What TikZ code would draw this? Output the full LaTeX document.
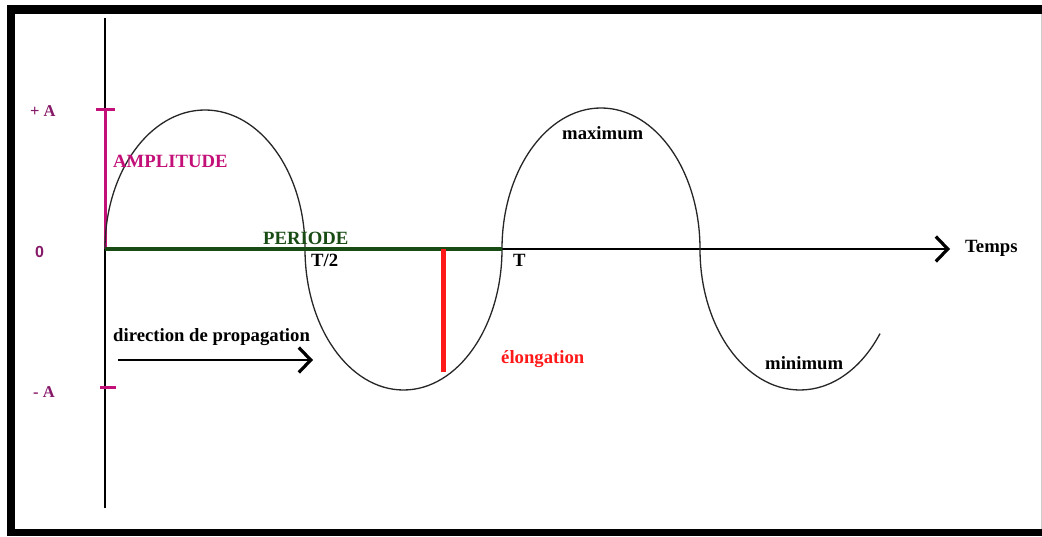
\documentclass[tikz,border=0pt]{standalone}
\usepackage{fontspec}
\setmainfont{Liberation Serif}
\setsansfont{Liberation Sans}
\usetikzlibrary{arrows.meta}
\definecolor{lblpurple}{RGB}{135,25,105}
\definecolor{ampmag}{RGB}{195,15,120}
\definecolor{pergreen}{RGB}{25,75,20}
\definecolor{elred}{RGB}{255,25,25}
\tikzset{
  lbl/.style={inner sep=0pt, font=\fontsize{18.7}{20}\selectfont\bfseries, anchor=base west},
  axlbl/.style={inner sep=0pt, font=\fontsize{16.5}{18}\selectfont\bfseries, anchor=base west, text=lblpurple},
  wave/.style={draw=black!85, line width=1.3pt},
  chev/.style={-{Straight Barb[length=12pt,width=25pt,line width=3.2pt]}},
}
\begin{document}
\begin{tikzpicture}[x=1pt,y=1pt]
\useasboundingbox (0,0) rectangle (1042,536);
\fill[white] (0,0) rectangle (1042,536);
% frame
\fill[black] (7,522) rectangle (1042,531);
\fill[black] (7,0) rectangle (15,531);
\fill[black] (7,0) rectangle (1042,7);
\draw[black!20, line width=1pt] (1041.5,7) -- (1041.5,522);
% coordinates
\coordinate (O) at (105,287);
\coordinate (Ytop) at (105,518);
\coordinate (Ybot) at (105,28);
\coordinate (Xend) at (950,287);
\coordinate (Aplus) at (105,426);
\coordinate (Tend) at (502,287);
\coordinate (Etop) at (443,287);
\coordinate (Ebot) at (443,164);
\coordinate (Ps) at (118,176);
\coordinate (Pe) at (313,176);
% axes
\draw[line width=1.5pt] (Ybot) -- (Ytop);
\draw[line width=2pt, chev] (O) -- (Xend);
% amplitude
\draw[ampmag, line width=3pt] (O) -- (Aplus);
\draw[ampmag, line width=3pt] (96,426) -- (115,426);
\draw[ampmag, line width=3pt] (100,148) -- (116,148);
% wave (half ellipses)
\draw[wave] (O) arc[start angle=180, end angle=0, x radius=100pt, y radius=139pt]
  arc[start angle=180, end angle=360, x radius=98.5pt, y radius=141pt]
  arc[start angle=180, end angle=0, x radius=99pt, y radius=141pt]
  arc[start angle=180, end angle=323.13, x radius=100pt, y radius=141pt];
% periode
\draw[pergreen, line width=4pt] (O) -- (Tend);
% elongation
\draw[elred, line width=5pt] (Etop) -- (Ebot);
% propagation arrow
\draw[line width=2.5pt, chev] (Ps) -- (Pe);
% labels
\node[axlbl] (lAp) at (30,419) {+ A};
\node[axlbl, font=\fontsize{16}{18}\selectfont\sffamily\bfseries] (l0) at (35,278) {0};
\node[axlbl] (lAm) at (33,139) {- A};
\node[lbl, text=ampmag] (lamp) at (113,368) {AMPLITUDE};
\node[lbl, text=pergreen] (lper) at (263,291) {PERIODE};
\node[lbl] (lT2) at (311,269) {T/2};
\node[lbl] (lT) at (513,269) {T};
\node[lbl, text=elred] (lel) at (501,172) {élongation};
\node[lbl] (lmax) at (562,396) {maximum};
\node[lbl] (lmin) at (765,166) {minimum};
\node[lbl] (ltemps) at (965,283) {Temps};
\node[lbl] (lprop) at (113,194) {direction de propagation};
\end{tikzpicture}
\end{document}
